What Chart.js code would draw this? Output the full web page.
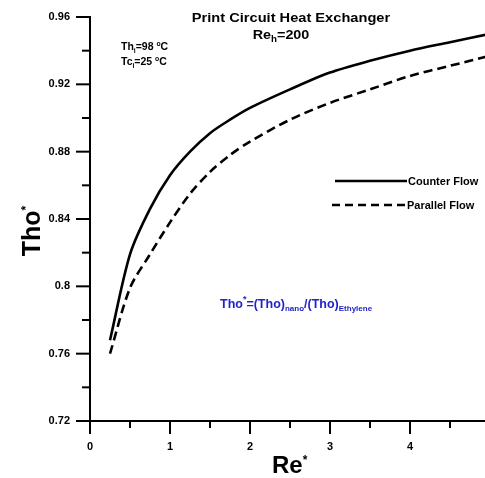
<!DOCTYPE html>
<html>
<head>
<meta charset="utf-8">
<script src="https://cdn.jsdelivr.net/npm/chart.js@4/dist/chart.umd.min.js"></script>
<style>
html,body{margin:0;padding:0;background:#fff;overflow:hidden;width:485px;height:478px;}
#wrap{position:relative;width:485px;height:478px;overflow:hidden;}
canvas{display:block;position:absolute;left:0;top:0;}
</style>
</head>
<body>
<div id="wrap"><canvas id="c" width="500" height="478"></canvas></div>
<script>
const reStar = [0.25, 0.5, 0.75, 1, 1.25, 1.5, 1.75, 2, 2.5, 3, 3.5, 4, 4.5, 5];
const counterFlow = [0.768, 0.819, 0.846, 0.866, 0.880, 0.891, 0.899, 0.906, 0.917, 0.927, 0.934, 0.940, 0.945, 0.950];
const parallelFlow = [0.760, 0.799, 0.819, 0.838, 0.855, 0.868, 0.878, 0.886, 0.899, 0.909, 0.917, 0.925, 0.931, 0.937];
const seriesNames = ['Counter Flow', 'Parallel Flow'];
const xMajorTicks = [0, 1, 2, 3, 4, 5];
const yMajorTicks = [0.72, 0.76, 0.8, 0.84, 0.88, 0.92, 0.96];

const FONT = '"Liberation Sans", Arial, sans-serif';

function toXY(xs, ys) { return xs.map((x, i) => ({x: x, y: ys[i]})); }

function richWidth(ctx, parts) {
  let w = 0;
  parts.forEach(p => { ctx.font = 'bold ' + p.s + 'px ' + FONT; w += ctx.measureText(p.t).width; });
  return w;
}
function drawRich(ctx, x, y, parts, color, align, sx) {
  sx = sx || 1;
  ctx.save();
  ctx.fillStyle = color;
  ctx.textBaseline = 'alphabetic';
  ctx.textAlign = 'left';
  const w = richWidth(ctx, parts) * sx;
  let cx = align === 'center' ? x - w / 2 : x;
  ctx.translate(cx, y);
  ctx.scale(sx, 1);
  let px = 0;
  parts.forEach(p => {
    ctx.font = 'bold ' + p.s + 'px ' + FONT;
    ctx.fillText(p.t, px, p.dy || 0);
    px += ctx.measureText(p.t).width;
  });
  ctx.restore();
}

function zeroPad(s) { s.paddingLeft = 0; s.paddingRight = 0; s.paddingTop = 0; s.paddingBottom = 0; }

const overlay = {
  id: 'overlay',
  afterDraw(chart) {
    const ctx = chart.ctx;
    const xs = chart.scales.x, ys = chart.scales.y;
    ctx.save();
    ctx.strokeStyle = '#000';
    ctx.lineWidth = 2;
    xs.ticks.forEach(t => {
      const px = xs.getPixelForValue(t.value);
      const major = xMajorTicks.some(v => Math.abs(v - t.value) < 1e-6);
      ctx.beginPath();
      ctx.moveTo(px, xs.top);
      ctx.lineTo(px, xs.top + (major ? 13 : 7));
      ctx.stroke();
    });
    ys.ticks.forEach(t => {
      const py = ys.getPixelForValue(t.value);
      const major = yMajorTicks.some(v => Math.abs(v - t.value) < 1e-6);
      ctx.beginPath();
      ctx.moveTo(ys.right, py);
      ctx.lineTo(ys.right - (major ? 14 : 8), py);
      ctx.stroke();
    });
    ctx.restore();

    // title
    drawRich(ctx, 291, 22, [{t: 'Print Circuit Heat Exchanger', s: 12.5}], '#000', 'center', 1.17);
    drawRich(ctx, 281, 39, [{t: 'Re', s: 12.5}, {t: 'h', s: 8.5, dy: 3}, {t: '=200', s: 12.5}], '#000', 'center', 1.15);

    // inlet temperatures
    drawRich(ctx, 121, 50, [{t: 'Th', s: 10}, {t: 'i', s: 6.5, dy: 2.5}, {t: '=98 ', s: 10}, {t: 'o', s: 6.5, dy: -4}, {t: 'C', s: 10}], '#000', 'left', 1.05);
    drawRich(ctx, 121, 65, [{t: 'Tc', s: 10}, {t: 'i', s: 6.5, dy: 2.5}, {t: '=25 ', s: 10}, {t: 'o', s: 6.5, dy: -4}, {t: 'C', s: 10}], '#000', 'left', 1.05);

    // legend
    ctx.save();
    ctx.strokeStyle = '#000';
    ctx.lineWidth = 2.5;
    ctx.beginPath(); ctx.moveTo(335, 181); ctx.lineTo(407, 181); ctx.stroke();
    ctx.setLineDash([8, 5]);
    ctx.beginPath(); ctx.moveTo(332, 205); ctx.lineTo(406, 205); ctx.stroke();
    ctx.restore();
    drawRich(ctx, 408, 185, [{t: seriesNames[0], s: 10}], '#000', 'left', 1.1);
    drawRich(ctx, 407, 209, [{t: seriesNames[1], s: 10}], '#000', 'left', 1.1);

    // blue formula
    drawRich(ctx, 220, 308, [
      {t: 'Tho', s: 12.5}, {t: '*', s: 9, dy: -6}, {t: '=(Tho)', s: 12.5},
      {t: 'nano', s: 8, dy: 3}, {t: '/(Tho)', s: 12.5}, {t: 'Ethylene', s: 8, dy: 3}
    ], '#2222cc', 'left', 1.0);

    // axis titles
    drawRich(ctx, 272, 473, [{t: 'Re', s: 24}, {t: '*', s: 12, dy: -9}], '#000', 'left', 1.0);
    ctx.save();
    ctx.translate(40, 231);
    ctx.rotate(-Math.PI / 2);
    drawRich(ctx, 0, 0, [{t: 'Tho', s: 25}, {t: '*', s: 12, dy: -10}], '#000', 'center', 1.0);
    ctx.restore();
  }
};

new Chart(document.getElementById('c'), {
  type: 'line',
  data: {
    datasets: [
      {
        label: seriesNames[0],
        data: toXY(reStar, counterFlow),
        borderColor: '#000',
        borderWidth: 2.6,
        pointRadius: 0,
        tension: 0.3,
        fill: false
      },
      {
        label: seriesNames[1],
        data: toXY(reStar, parallelFlow),
        borderColor: '#000',
        borderWidth: 2.6,
        borderDash: [9, 5],
        pointRadius: 0,
        tension: 0.3,
        fill: false
      }
    ]
  },
  options: {
    responsive: false,
    animation: false,
    layout: {padding: {top: 17, right: 10, left: 0, bottom: 0}},
    plugins: {legend: {display: false}, title: {display: false}, tooltip: {enabled: false}},
    scales: {
      x: {
        type: 'linear',
        min: 0, max: 5,
        afterFit(s) { s.height = 57; zeroPad(s); },
        border: {display: true, color: '#000', width: 2},
        grid: {display: true, drawOnChartArea: false, drawTicks: false, color: 'rgba(0,0,0,0)'},
        ticks: {
          stepSize: 0.5,
          autoSkip: false,
          maxRotation: 0,
          padding: 19,
          color: '#000',
          font: {family: FONT, size: 11, weight: 'bold'},
          callback(v) { return xMajorTicks.some(m => Math.abs(m - v) < 1e-6) ? String(Math.round(v)) : ''; }
        }
      },
      y: {
        type: 'linear',
        min: 0.72, max: 0.96,
        afterFit(s) { s.width = 90; zeroPad(s); },
        border: {display: true, color: '#000', width: 2},
        grid: {display: true, drawOnChartArea: false, drawTicks: false, color: 'rgba(0,0,0,0)'},
        ticks: {
          stepSize: 0.02,
          autoSkip: false,
          padding: 20,
          color: '#000',
          font: {family: FONT, size: 11, weight: 'bold'},
          callback(v) {
            const m = yMajorTicks.find(t => Math.abs(t - v) < 1e-6);
            return m === undefined ? '' : String(m);
          }
        }
      }
    }
  },
  plugins: [overlay]
});
</script>
</body>
</html>
